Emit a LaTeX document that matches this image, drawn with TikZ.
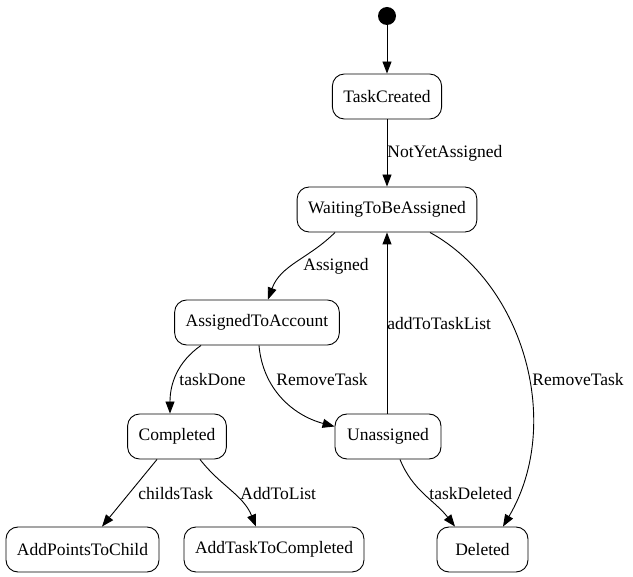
\documentclass[tikz,border=0pt]{standalone}
\usepackage{fontspec}
\setmainfont{Liberation Serif}
\usetikzlibrary{arrows.meta}
\begin{document}
\begin{tikzpicture}[x=1pt,y=1pt,>={Triangle[length=12pt,width=9pt]},line width=0.9pt,
  font=\fontsize{17.5}{21}\selectfont,
  state/.style={draw,rounded corners=12pt,minimum height=45pt,inner xsep=11pt},
  lbl/.style={anchor=west,inner sep=0pt}]
				\useasboundingbox (0,0) rectangle (633,-577);
				\node[circle,fill=black,minimum size=18pt,inner sep=0pt] (start) at (387,-16) {};
				\node[state] (created) at (387,-96.5) {TaskCreated};
				\node[state] (waiting) at (387,-209.5) {WaitingToBeAssigned};
				\node[state] (account) at (257,-322.5) {AssignedToAccount};
				\node[state] (completed) at (177,-436.5) {Completed};
				\node[state,minimum width=106pt] (unassigned) at (388,-436.5) {Unassigned};
				\node[state] (points) at (82.5,-549.5) {AddPointsToChild};
				\node[state] (addtask) at (274,-549.5) {AddTaskToCompleted};
				\node[state,minimum width=91pt] (deleted) at (482.5,-549.5) {Deleted};
				\draw[->] (start) -- (created);
				\draw[->] (created) -- (waiting);
				\draw[->] ([xshift=-52pt]waiting.south) to[out=225,in=70] ([xshift=11pt]account.north);
				\draw[->] ([xshift=-56pt]account.south) to[out=215,in=90] ([xshift=-7pt]completed.north);
				\draw[->] ([xshift=2pt]account.south) to[out=-85,in=165] ([yshift=10pt]unassigned.west);
				\draw[->] ([xshift=-1pt]unassigned.north) -- (waiting.south);
				\draw[->] ([xshift=43pt]waiting.south) .. controls (525,-285) and (563,-425) .. ([xshift=20.5pt]deleted.north);
				\draw[->] ([xshift=12pt]unassigned.south) to[out=-68,in=128] ([xshift=-27.5pt]deleted.north);
				\draw[->] ([xshift=-20pt]completed.south) -- ([xshift=19.5pt]points.north);
				\draw[->] ([xshift=23pt]completed.south) to[out=-52,in=112] ([xshift=-18pt]addtask.north);
				\node[lbl] (l1) at (387,-153) {NotYetAssigned};
				\node[lbl] (l2) at (303,-266) {Assigned};
				\node[lbl] (l3) at (179,-380) {taskDone};
				\node[lbl] (l4) at (276,-380) {RemoveTask};
				\node[lbl] (l5) at (387,-324) {addToTaskList};
				\node[lbl] (l6) at (532,-380) {RemoveTask};
				\node[lbl] (l7) at (138,-494) {childsTask};
				\node[lbl] (l8) at (240,-494) {AddToList};
				\node[lbl] (l9) at (429,-494) {taskDeleted};
			\end{tikzpicture}
\end{document}
